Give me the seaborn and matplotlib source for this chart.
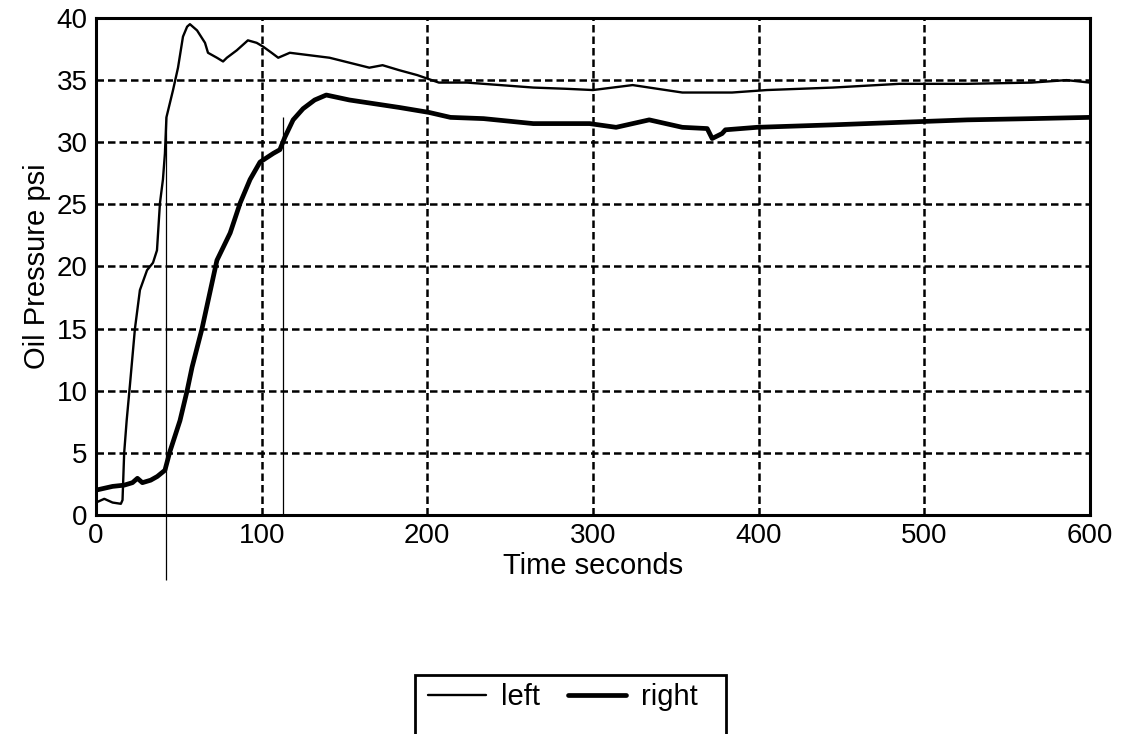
import seaborn as sns
import pandas as pd
import matplotlib.pyplot as plt
from matplotlib.patches import Rectangle

# oil pressure readings
left_t = [0, 5, 10, 15, 16, 17, 18.5, 20.5, 21.5, 23.5, 26.5, 30.8, 34.4, 36.8,
          38.6, 40.4, 41.6, 42.5, 46.5, 49.5, 52.5, 55, 56.7, 61, 65.8, 67.6,
          73, 76.7, 79, 85, 91.7, 97, 100.8, 106, 110, 117, 129, 141, 153, 165,
          173, 183, 194, 207, 224, 244, 264, 284, 300, 324, 344, 354, 384, 405,
          425, 445, 485, 526, 565, 586, 600]
left_psi = [1.0, 1.3, 1.0, 0.9, 1.2, 5.0, 7.6, 10.5, 12.0, 15.0, 18.1, 19.7, 20.3, 21.3,
            25.1, 27.0, 29.1, 32.0, 34.2, 36.0, 38.5, 39.3, 39.5, 39.0, 38.0, 37.2,
            36.8, 36.5, 36.8, 37.4, 38.2, 38.0, 37.7, 37.2, 36.8, 37.2, 37.0, 36.8, 36.4, 36.0,
            36.2, 35.8, 35.4, 34.8, 34.8, 34.6, 34.4, 34.3, 34.2, 34.6, 34.2, 34.0, 34.0, 34.2,
            34.3, 34.4, 34.7, 34.7, 34.8, 35.0, 34.8]

right_t = [0, 10, 17, 22, 25, 28, 33, 37, 41.6, 44.6, 50.7, 55, 58, 64, 73, 81,
           87, 93, 99, 107, 111, 114, 119, 125, 132, 139, 146, 153, 168, 183,
           201, 214, 234, 264, 298, 314, 334, 354, 369, 372, 378, 380, 399, 445,
           485, 526, 565, 600]
right_psi = [2.0, 2.3, 2.4, 2.6, 2.95, 2.6, 2.8, 3.1, 3.6, 5.1, 7.6, 10.0, 11.9, 15.0, 20.5, 22.7,
             25.1, 27.0, 28.4, 29.1, 29.4, 30.4, 31.8, 32.7, 33.4, 33.8, 33.6, 33.4, 33.1, 32.8,
             32.4, 32.0, 31.9, 31.5, 31.5, 31.2, 31.8, 31.2, 31.1, 30.3, 30.7, 31.0, 31.2, 31.4,
             31.6, 31.8, 31.9, 32.0]

# thin hand-drawn marker lines on the chart
mark_t = [42, 113]
mark_top = [32, 32]
mark_bottom = [-5.2, 0]

x_ticks = [0, 100, 200, 300, 400, 500, 600]
y_ticks = [0, 5, 10, 15, 20, 25, 30, 35, 40]

sns.set_style("white")
plt.rcParams["font.family"] = ["Liberation Sans", "DejaVu Sans"]
plt.rcParams["text.color"] = "black"
plt.rcParams["axes.labelcolor"] = "black"
plt.rcParams["xtick.color"] = "black"
plt.rcParams["ytick.color"] = "black"

fig = plt.figure(figsize=(11.27, 7.34), dpi=100)
ax = fig.add_axes([0.0852, 0.2984, 0.8818, 0.6771])

left_df = pd.DataFrame({"t": left_t, "psi": left_psi})
right_df = pd.DataFrame({"t": right_t, "psi": right_psi})

sns.lineplot(data=left_df, x="t", y="psi", ax=ax, color="black",
             linewidth=1.7, label="left", estimator=None, sort=False)
sns.lineplot(data=right_df, x="t", y="psi", ax=ax, color="black",
             linewidth=3.4, label="right", estimator=None, sort=False)

ax.vlines(mark_t, mark_bottom, mark_top, colors="black", linewidth=0.9,
          clip_on=False)

ax.set_xlim(0, 600)
ax.set_ylim(0, 40)
ax.set_xticks(x_ticks)
ax.set_yticks(y_ticks)
ax.tick_params(labelsize=20, direction="inout", length=8, width=1.5,
               color="black", labelcolor="black", pad=2)
ax.grid(True, color="black", linestyle=(0, (3, 1.6)), linewidth=1.8)
for sp in ax.spines.values():
    sp.set_visible(True)
    sp.set_color("black")
    sp.set_linewidth(2.2)

ax.set_xlabel("Time seconds", fontsize=21, labelpad=2, color="black")
ax.set_ylabel("Oil Pressure psi", fontsize=21, labelpad=4, color="black")

ax.get_legend().remove()
h, l = ax.get_legend_handles_labels()
leg = fig.legend(h, l, loc="upper left", bbox_to_anchor=(0.3798, 0.069),
                 ncol=2, fontsize=21, frameon=False,
                 handlelength=2.0, handletextpad=0.5, columnspacing=0.95,
                 borderpad=0, borderaxespad=0, labelcolor="black")

# legend box runs off the bottom edge of the page, like the scan
fig.patches.append(Rectangle((0.3682, -0.05), 0.2760, 0.1304,
                             transform=fig.transFigure, fill=False,
                             edgecolor="black", linewidth=2.0))

plt.savefig("out.png", dpi=100)
